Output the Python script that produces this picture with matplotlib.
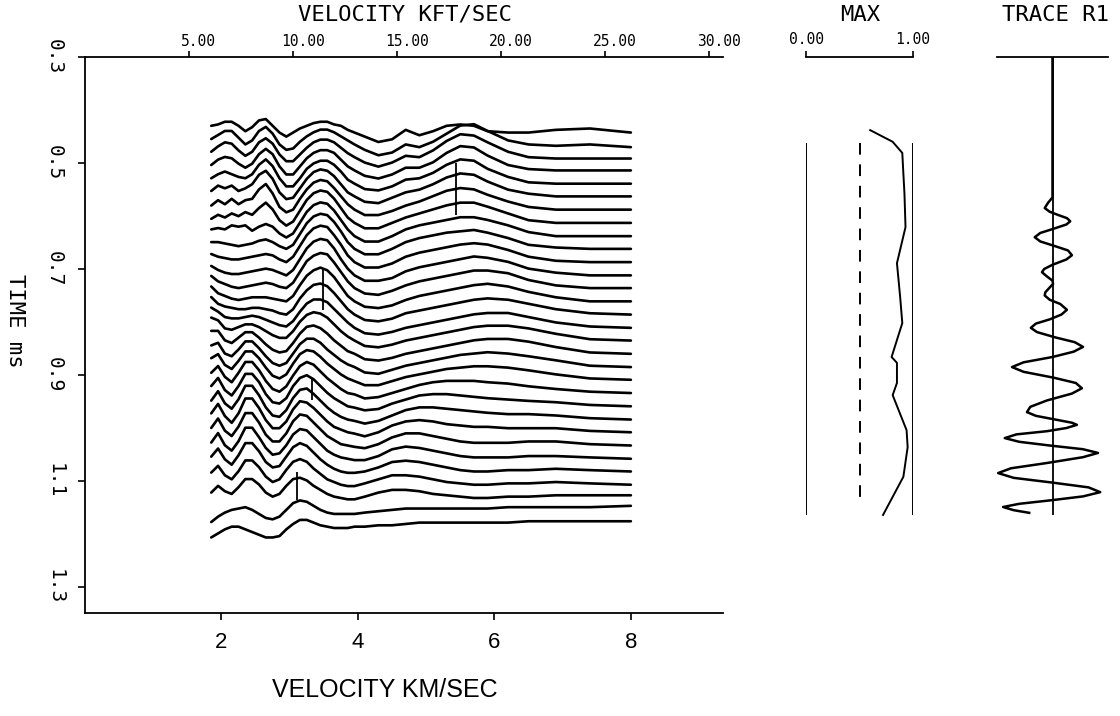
#Velocity analysis panel: semblance traces, max semblance and trace R1
import numpy as np
import matplotlib
matplotlib.use('Agg')
import matplotlib.pyplot as plt

mono = 'DejaVu Sans Mono'
sans = 'Liberation Sans'

# velocity grid (km/sec) at which every semblance trace was read
vel = [1.85, 1.95, 2.05, 2.15, 2.25, 2.35, 2.45, 2.55, 2.65, 2.75, 2.85, 2.95,
       3.05, 3.15, 3.25, 3.35, 3.45, 3.55, 3.65, 3.75, 3.85, 3.95, 4.1, 4.3,
       4.5, 4.7, 4.9, 5.1, 5.3, 5.5, 5.7, 5.9, 6.2, 6.5, 6.9, 7.4, 8.0]

# time (ms) of each trace, top to bottom
trace_times = [0.440, 0.465, 0.489, 0.514, 0.539, 0.563, 0.588, 0.613, 0.638, 0.662,
               0.687, 0.712, 0.736, 0.761, 0.786, 0.811, 0.835, 0.860, 0.885, 0.909,
               0.934, 0.959, 0.984, 1.008, 1.033, 1.058, 1.082, 1.107, 1.132, 1.157,
               1.181]

# deflection of each trace above its time line (semblance, plot units)
trace_amps = [
    [4, 5, 7, 7, 4, 0, 3, 8, 9, 4, -1, -4, -1, 2, 4, 6, 7, 7, 5, 4, 1, -1, -4, -8, -6, 1, -3, 0, 4, 5, 4, 0, -1, -1, 1, 2, -1],
    [4, 7, 10, 10, 5, 0, 3, 10, 13, 8, 0, -4, -3, 2, 6, 9, 11, 11, 9, 6, 3, 0, -4, -8, -6, 0, -2, 2, 8, 14, 15, 10, 3, 0, -1, 0, -2],
    [4, 8, 11, 10, 5, 1, 4, 11, 14, 10, 2, -3, -3, 2, 7, 11, 13, 13, 11, 7, 3, 0, -4, -7, -4, 1, 0, 5, 12, 17, 16, 11, 4, 0, -1, -1, -1],
    [4, 8, 10, 9, 5, 2, 5, 12, 16, 12, 3, -3, -3, 3, 9, 13, 15, 15, 13, 8, 3, 0, -4, -6, -3, 2, 2, 6, 13, 18, 17, 11, 4, 1, 0, 0, 0],
    [4, 7, 9, 7, 5, 4, 7, 14, 18, 13, 4, -2, -2, 4, 11, 15, 17, 17, 14, 9, 3, 0, -4, -5, -2, 3, 4, 8, 14, 18, 17, 11, 5, 1, 0, 0, 0],
    [4, 8, 6, 8, 4, 6, 9, 16, 19, 13, 3, -2, -1, 6, 13, 18, 20, 19, 15, 9, 3, 0, -4, -5, -1, 3, 5, 9, 14, 17, 16, 11, 5, 2, 0, 0, 0],
    [3, 7, 4, 8, 4, 7, 8, 15, 19, 12, 2, -2, 0, 8, 15, 20, 22, 21, 16, 10, 4, 0, -4, -4, -1, 3, 6, 10, 14, 16, 15, 11, 6, 2, 0, 0, 0],
    [3, 6, 4, 7, 5, 8, 6, 11, 15, 10, 2, -2, 1, 9, 17, 22, 24, 23, 18, 11, 4, 0, -4, -4, 0, 4, 7, 10, 13, 15, 15, 12, 7, 2, 0, 0, 0],
    [5, 6, 5, 8, 7, 8, 4, 7, 9, 7, 2, -1, 2, 10, 18, 23, 25, 24, 19, 12, 5, 0, -4, -4, 0, 5, 8, 10, 12, 14, 14, 12, 8, 3, 0, 0, 0],
    [5, 5, 4, 3, 2, 3, 4, 6, 7, 5, 2, 0, 3, 11, 19, 24, 26, 25, 20, 13, 5, 0, -4, -4, 0, 5, 8, 10, 12, 13, 14, 12, 8, 3, 1, 0, 0],
    [6, 4, 3, 2, 2, 3, 4, 5, 6, 5, 2, 0, 4, 12, 20, 25, 27, 26, 20, 13, 5, 0, -4, -4, -1, 4, 7, 9, 11, 13, 14, 13, 9, 4, 1, 0, 0],
    [7, 4, 2, 1, 1, 2, 3, 4, 5, 4, 2, 0, 4, 12, 20, 25, 27, 26, 20, 12, 5, 0, -4, -4, -2, 3, 6, 8, 10, 12, 14, 13, 10, 5, 2, 0, 0],
    [9, 5, 3, 1, 0, 1, 2, 3, 4, 3, 1, 0, 4, 12, 20, 24, 26, 25, 19, 12, 5, 0, -4, -5, -2, 2, 5, 7, 9, 11, 13, 13, 11, 6, 2, 0, 0],
    [11, 6, 4, 2, 1, 2, 3, 3, 3, 2, 1, 0, 4, 12, 19, 23, 25, 23, 18, 11, 4, 0, -4, -5, -3, 1, 4, 6, 8, 10, 12, 13, 11, 7, 3, 0, 0],
    [13, 8, 6, 5, 4, 4, 5, 5, 4, 3, 1, 0, 4, 12, 18, 22, 23, 21, 16, 10, 4, 0, -4, -5, -3, 1, 3, 5, 7, 9, 11, 12, 11, 8, 4, 1, 0],
    [15, 12, 8, 7, 7, 8, 9, 8, 6, 4, 2, 1, 5, 12, 18, 21, 21, 19, 14, 9, 4, 0, -4, -5, -3, 0, 2, 4, 6, 8, 10, 11, 11, 8, 4, 1, 0],
    [17, 15, 9, 8, 10, 12, 12, 10, 7, 4, 2, 2, 7, 14, 19, 21, 20, 17, 12, 7, 3, 0, -4, -5, -3, 0, 2, 4, 6, 8, 10, 11, 11, 9, 5, 1, 0],
    [17, 17, 10, 8, 12, 16, 16, 12, 7, 3, 1, 2, 8, 15, 20, 21, 19, 15, 10, 6, 2, 0, -4, -5, -3, 0, 2, 4, 6, 8, 10, 11, 11, 9, 5, 1, 0],
    [16, 18, 10, 8, 13, 19, 19, 14, 8, 3, 1, 3, 10, 17, 21, 21, 18, 13, 9, 5, 2, 0, -4, -5, -2, 1, 3, 5, 7, 9, 10, 11, 10, 8, 5, 1, 0],
    [16, 19, 11, 8, 14, 21, 21, 16, 9, 3, 1, 4, 12, 19, 22, 21, 17, 12, 8, 4, 1, -1, -4, -4, -1, 2, 4, 6, 8, 9, 10, 10, 9, 7, 4, 1, 0],
    [15, 20, 12, 8, 15, 23, 23, 17, 9, 3, 1, 5, 13, 20, 23, 21, 16, 11, 7, 3, 0, -1, -4, -3, 0, 3, 6, 8, 9, 9, 9, 8, 7, 5, 3, 1, 0],
    [15, 21, 12, 8, 15, 24, 24, 18, 9, 3, 2, 6, 15, 21, 23, 20, 15, 10, 6, 3, 0, -1, -3, -2, 2, 5, 8, 9, 9, 8, 7, 6, 5, 4, 3, 1, 0],
    [14, 21, 12, 8, 15, 25, 25, 18, 9, 3, 2, 7, 16, 22, 23, 19, 14, 9, 5, 2, 0, -1, -3, -1, 3, 7, 9, 9, 8, 7, 6, 5, 4, 4, 3, 1, 0],
    [14, 21, 12, 7, 14, 25, 25, 18, 9, 3, 3, 8, 17, 23, 22, 18, 13, 8, 4, 2, 0, -1, -3, 0, 5, 8, 9, 8, 6, 5, 4, 4, 3, 3, 3, 1, 0],
    [13, 20, 11, 7, 14, 24, 24, 17, 8, 3, 3, 9, 18, 23, 22, 17, 12, 7, 4, 1, 0, -1, -2, 1, 6, 9, 9, 7, 5, 3, 2, 2, 2, 3, 3, 1, 0],
    [12, 19, 10, 6, 13, 23, 23, 16, 8, 3, 4, 10, 18, 22, 21, 16, 11, 6, 3, 1, 0, -1, -1, 2, 7, 9, 8, 6, 4, 2, 1, 1, 1, 2, 2, 1, 0],
    [11, 17, 9, 5, 12, 21, 21, 15, 7, 3, 4, 11, 18, 21, 19, 14, 9, 5, 2, 0, -1, -1, 0, 3, 7, 8, 7, 5, 3, 1, 0, 0, 1, 1, 2, 1, 0],
    [9, 14, 7, 4, 10, 18, 18, 13, 6, 2, 4, 11, 17, 19, 17, 12, 8, 4, 2, 0, -1, -1, 1, 4, 7, 7, 6, 4, 2, 1, 0, 0, 1, 1, 2, 1, 0],
    [4, 9, 5, 3, 8, 14, 14, 10, 4, 1, 3, 9, 14, 15, 13, 9, 6, 3, 1, 0, -1, -1, 1, 4, 6, 6, 5, 3, 2, 1, 0, 0, 1, 1, 2, 2, 2],
    [-8, -4, -1, 1, 2, 3, 1, -2, -5, -6, -4, 1, 6, 8, 7, 4, 1, -1, -2, -2, -2, -2, -1, 0, 1, 2, 2, 2, 2, 2, 2, 2, 3, 3, 3, 3, 4],
    [-10, -7, -4, -2, -2, -4, -6, -8, -10, -10, -9, -4, 0, 3, 3, 1, -1, -2, -3, -3, -3, -2, -2, -1, -1, 0, 1, 1, 1, 1, 1, 1, 1, 2, 2, 2, 2],
]
amp_gain = 1.35 / 530.0  # ms of time axis per semblance unit

# picked velocities (short vertical bars)
pick_vel = [5.44, 3.49, 3.32, 3.11]
pick_t0 = [0.500, 0.698, 0.906, 1.083]
pick_t1 = [0.598, 0.777, 0.947, 1.136]

# maximum semblance vs time
max_time = [0.438, 0.460, 0.481, 0.520, 0.557, 0.621, 0.689, 0.753, 0.802, 0.866,
            0.877, 0.915, 0.938, 1.004, 1.036, 1.092, 1.164]
max_val = [0.60, 0.81, 0.90, 0.91, 0.92, 0.93, 0.85, 0.88, 0.90, 0.80,
           0.85, 0.85, 0.81, 0.94, 0.95, 0.91, 0.72]
max_window = [0.462, 1.164]
max_dash_end = 1.145
max_ref = 0.5

# trace R1 (amplitude vs time)
r1_time = [0.300, 0.565, 0.575, 0.585, 0.592, 0.598, 0.604, 0.610, 0.616, 0.624,
           0.632, 0.640, 0.648, 0.657, 0.665, 0.674, 0.682, 0.692, 0.700, 0.706,
           0.714, 0.722, 0.728, 0.736, 0.744, 0.750, 0.758, 0.766, 0.777, 0.786,
           0.795, 0.803, 0.811, 0.819, 0.829, 0.838, 0.847, 0.856, 0.866, 0.876,
           0.885, 0.894, 0.905, 0.915, 0.925, 0.935, 0.948, 0.960, 0.970, 0.977,
           0.985, 0.990, 0.994, 1.000, 1.006, 1.012, 1.019, 1.026, 1.033, 1.040,
           1.047, 1.055, 1.066, 1.076, 1.085, 1.094, 1.103, 1.112, 1.121, 1.129,
           1.136, 1.143, 1.149, 1.155, 1.160]
r1_amp = [0.0, 0.0, -0.08, -0.14, -0.05, 0.10, 0.26, 0.32, 0.25, 0.02,
          -0.22, -0.32, -0.22, 0.05, 0.28, 0.35, 0.25, 0.00, -0.15, -0.19,
          -0.10, 0.00, 0.01, -0.06, -0.13, -0.14, -0.05, 0.14, 0.26, 0.16,
          -0.05, -0.30, -0.39, -0.28, 0.05, 0.40, 0.55, 0.38, 0.00, -0.52,
          -0.73, -0.52, 0.02, 0.42, 0.53, 0.35, -0.10, -0.40, -0.46, -0.30,
          0.10, 0.35, 0.44, 0.25, -0.10, -0.65, -0.86, -0.60, -0.05, 0.55,
          0.82, 0.55, -0.10, -0.75, -0.98, -0.70, 0.00, 0.65, 0.86, 0.55,
          0.00, -0.60, -0.89, -0.70, -0.42]
r1_end = 1.164

kft_ticks = [5, 10, 15, 20, 25, 30]
kms_ticks = [2, 4, 6, 8]
time_ticks = [0.3, 0.5, 0.7, 0.9, 1.1, 1.3]
KFT = 0.3048  # km per kft

W, H = 1120, 716
t_lim = (1.349, 0.3)
bot = 1 - 613 / H
hgt = 556 / H

fig = plt.figure(figsize=(W / 100, H / 100), dpi=100)

# ---- main semblance panel
ax = fig.add_axes([85 / W, bot, 638 / W, hgt])
for t, a in zip(trace_times, trace_amps):
    ax.plot(vel, t - np.array(a) * amp_gain, color='k', lw=1.9,
            solid_joinstyle='round', solid_capstyle='round')
ax.vlines(pick_vel, pick_t0, pick_t1, color='k', lw=1.3)
ax.set_xlim(0, 9.35)
ax.set_ylim(*t_lim)
for s in ['right', 'top']:
    ax.spines[s].set_visible(False)
for s in ['left', 'bottom']:
    ax.spines[s].set_linewidth(1.3)
ax.set_xticks(kms_ticks)
ax.set_xticklabels([str(v) for v in kms_ticks], family=sans, fontsize=16)
ax.set_yticks(time_ticks)
ax.set_yticklabels(['%.1f' % v for v in time_ticks], family=mono, fontsize=14,
                   rotation=-90, va='center')
ax.tick_params(axis='x', direction='out', length=5, width=1.2, pad=9)
ax.tick_params(axis='y', direction='out', length=5, width=1.2, pad=10)

top = ax.secondary_xaxis('top', functions=(lambda x: x / KFT, lambda x: x * KFT))
top.set_xticks(kft_ticks)
top.set_xticklabels([])
top.tick_params(direction='out', length=4, width=1.2)
top.spines['top'].set_linewidth(1.3)
for v in kft_ticks:
    ax.annotate('%.2f' % v, xy=(v * KFT, 1.0), xycoords=('data', 'axes fraction'),
                xytext=(7, 6), textcoords='offset points', ha='center', va='bottom',
                family=mono, fontsize=10.5)

fig.text(405 / W, 1 - 15 / H, 'VELOCITY KFT/SEC', family=mono, fontsize=16,
         ha='center', va='center')
fig.text(15 / W, 1 - 321 / H, 'TIME ms', family=mono, fontsize=16,
         rotation=-90, ha='center', va='center')
fig.text(385 / W, 1 - 690 / H, 'VELOCITY KM/SEC', family=sans, fontsize=18,
         ha='center', va='center')

# ---- max semblance panel
ax2 = fig.add_axes([806 / W, bot, 107 / W, hgt])
ax2.plot(max_val, max_time, color='k', lw=1.4)
ax2.vlines([0, 1], max_window[0], max_window[1], color='k', lw=1.4)
ax2.vlines(max_ref, max_window[0], max_dash_end, color='k', lw=1.4,
           linestyles=(0, (6, 5)))
ax2.set_xlim(0, 1)
ax2.set_ylim(*t_lim)
for s in ['left', 'right', 'bottom']:
    ax2.spines[s].set_visible(False)
ax2.spines['top'].set_linewidth(1.3)
ax2.xaxis.tick_top()
ax2.set_xticks([0, 1])
ax2.set_xticklabels(['0.00', '1.00'], family=mono, fontsize=10.5)
ax2.tick_params(axis='x', direction='out', length=4, width=1.2, pad=3)
ax2.set_yticks([])
fig.text(860 / W, 1 - 15 / H, 'MAX', family=mono, fontsize=16,
         ha='center', va='center')

# ---- trace R1 panel
ax3 = fig.add_axes([997 / W, bot, 111 / W, hgt])
ax3.vlines(0, t_lim[1], r1_end, color='k', lw=1.3)
ax3.plot(r1_amp, r1_time, color='k', lw=1.8, solid_joinstyle='round')
ax3.set_xlim(-1, 1)
ax3.set_ylim(*t_lim)
for s in ['left', 'right', 'bottom']:
    ax3.spines[s].set_visible(False)
ax3.spines['top'].set_linewidth(1.3)
ax3.set_xticks([])
ax3.set_yticks([])
fig.text(1055 / W, 1 - 15 / H, 'TRACE R1', family=mono, fontsize=16,
         ha='center', va='center')

fig.savefig('out.png', dpi=100)
